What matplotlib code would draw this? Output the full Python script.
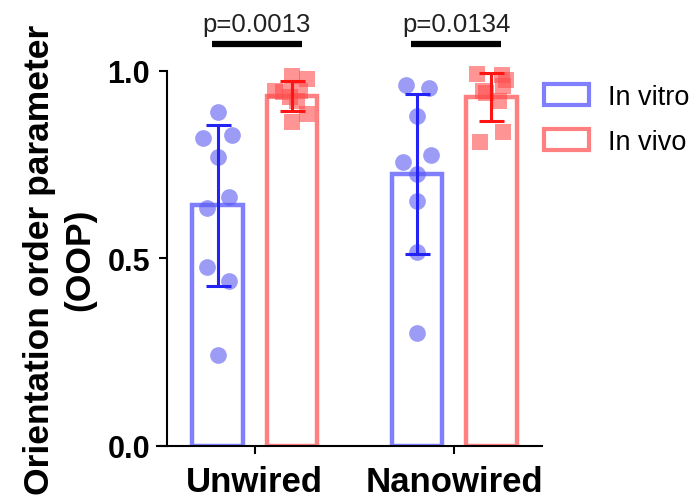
import numpy as np
import matplotlib.pyplot as plt
from matplotlib.patches import Patch

plt.rcParams['font.family'] = ['Liberation Sans', 'DejaVu Sans']

# Data
groups = ["Unwired", "Nanowired"]
series = ["In vitro", "In vivo"]
unwired_vitro = [0.89, 0.82, 0.83, 0.77, 0.664, 0.635, 0.477, 0.44, 0.243]
unwired_vivo = [0.987, 0.979, 0.947, 0.944, 0.947, 0.931, 0.92, 0.885, 0.864]
nano_vitro = [0.963, 0.955, 0.88, 0.776, 0.757, 0.725, 0.653, 0.517, 0.30]
nano_vivo = [0.992, 0.99, 0.975, 0.96, 0.945, 0.94, 0.92, 0.837, 0.81]
p_values = ["p=0.0013", "p=0.0134"]

# Horizontal scatter of the dots (pixel offsets from bar centre)
jitter_px = [
    [0, -15, 14, 0, 11, -11, -11, 11, 0],
    [0, 15, -17, -9, 8, -2, 5, 15, 0],
    [-11, 12, 0, 14, -14, 0, 0, 0, 0],
    [-14, 11, 15, 12, -8, -5, 8, 12, -11],
]

vitro_edge, vitro_dot, vitro_err = "#8080ff", "#5a5af0", "#2323f5"
vivo_edge, vivo_dot, vivo_err = "#ff8080", "#ff4d4d", "#ff1414"

fig = plt.figure(figsize=(6.95, 5.02), dpi=100)
ax = fig.add_axes([0.240, 0.1096, 0.540, 0.7474])

x = np.arange(len(groups))
offset = 0.186
width = 0.255
px = 1 / 199.0

data = [(unwired_vitro, unwired_vivo), (nano_vitro, nano_vivo)]
k = 0
for gi, (vitro, vivo) in enumerate(data):
    for si, vals in enumerate((vitro, vivo)):
        vals = np.array(vals)
        xc = x[gi] + (-offset if si == 0 else offset)
        edge = vitro_edge if si == 0 else vivo_edge
        dot = vitro_dot if si == 0 else vivo_dot
        err = vitro_err if si == 0 else vivo_err
        marker = "o" if si == 0 else "s"
        ax.bar(xc, vals.mean(), width=width, facecolor="white", edgecolor=edge,
               linewidth=3.2, zorder=1)
        xs = xc + np.array(jitter_px[k]) * px
        ax.scatter(xs, vals, s=145 if si == 0 else 125, marker=marker, color=dot,
                   alpha=0.6, linewidths=0, zorder=2, clip_on=False)
        ax.errorbar(xc, vals.mean(), yerr=vals.std(ddof=1), color=err, lw=2.2,
                    capsize=9, capthick=2.2, zorder=3, clip_on=False)
        k += 1

# significance bars
for gi, p in enumerate(p_values):
    ax.plot([x[gi] - 0.215, x[gi] + 0.235], [1.072, 1.072], color="black",
            lw=4.5, clip_on=False, solid_capstyle="butt")
    ax.text(x[gi] + 0.01, 1.092, p, ha="center", va="bottom", fontsize=18.5,
            color="#222222")

ax.set_xlim(-0.442, 1.442)
ax.set_ylim(0, 1.0)
ax.set_yticks([0.0, 0.5, 1.0])
ax.set_yticklabels(["0.0", "0.5", "1.0"])
ax.set_xticks(x)
ax.set_xticklabels(groups)
for lab in ax.get_yticklabels():
    lab.set_fontweight("bold")
    lab.set_fontsize(22)
for lab in ax.get_xticklabels():
    lab.set_fontweight("bold")
    lab.set_fontsize(25)
ax.tick_params(axis="both", width=1.5, length=6, pad=6)
ax.tick_params(axis="x", pad=8)
ax.spines["top"].set_visible(False)
ax.spines["right"].set_visible(False)
ax.spines["left"].set_linewidth(1.5)
ax.spines["bottom"].set_linewidth(1.5)
ax.spines["bottom"].set_bounds(-0.492, 1.442)

ax.set_ylabel("Orientation order parameter\n(OOP)", fontsize=25.5,
              fontweight="bold", linespacing=1.3, labelpad=8)

handles = [Patch(facecolor="white", edgecolor=vitro_edge, linewidth=3, label=series[0]),
           Patch(facecolor="white", edgecolor=vivo_edge, linewidth=3, label=series[1])]
ax.legend(handles=handles, loc="upper left", bbox_to_anchor=(0.94, 1.03),
          frameon=False, fontsize=19.5, handlelength=1.65, handleheight=0.82,
          handletextpad=0.7, labelspacing=0.7)

fig.savefig("out.png", dpi=100)
